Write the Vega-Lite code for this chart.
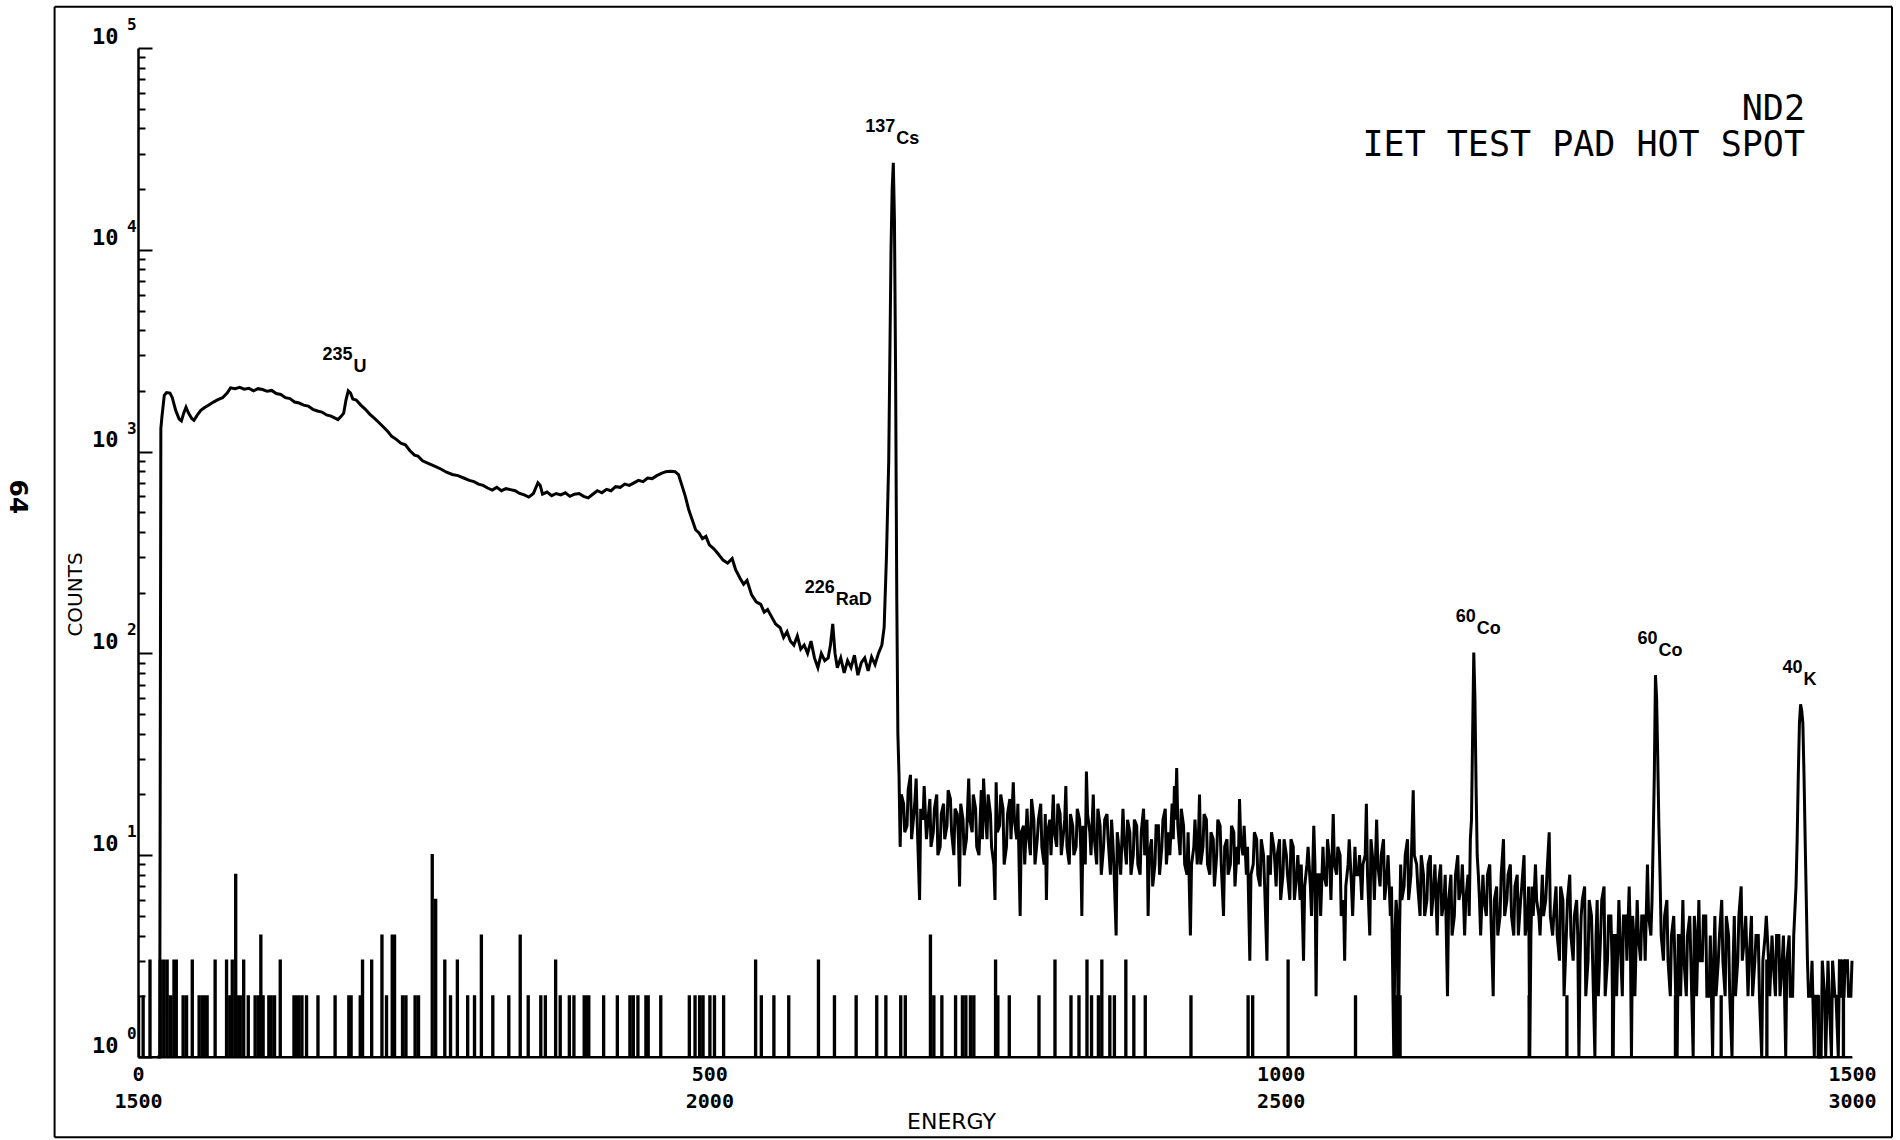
{
  "$schema": "https://vega.github.io/schema/vega-lite/v6.json",
  "width": 1714,
  "height": 1009,
  "autosize": {"type": "none"},
  "padding": {"left": 138, "top": 48, "right": 48, "bottom": 83},
  "background": "white",
  "config": {"view": {"stroke": null}, "font": "DejaVu Sans Mono"},
  "title": {
    "text": ["ND2", "IET TEST PAD HOT SPOT"],
    "anchor": "end", "frame": "group", "orient": "top", "offset": 0,
    "baseline": "top", "dy": 157, "dx": -47, "align": "right",
    "font": "DejaVu Sans Mono", "fontSize": 35, "fontWeight": "normal",
    "lineHeight": 36, "color": "black"
  },
  "datasets": {
    "main": [
      {"c":17,"n":1},{"c":19,"n":1},{"c":20,"n":1300},{"c":21,"n":1500},{"c":23,"n":1900},{"c":25,"n":1960},{"c":28,"n":1950},{"c":30,"n":1850},{"c":33,"n":1600},{"c":36,"n":1450},{"c":38,"n":1420},{"c":40,"n":1550},{"c":42,"n":1660},{"c":44,"n":1560},{"c":47,"n":1460},{"c":49,"n":1430},{"c":52,"n":1520},{"c":55,"n":1600},{"c":58,"n":1650},{"c":62,"n":1700},{"c":66,"n":1760},{"c":70,"n":1810},{"c":74,"n":1850},{"c":78,"n":1950},{"c":81,"n":2070},{"c":85,"n":2050},{"c":89,"n":2080},{"c":93,"n":2040},{"c":97,"n":2060},{"c":101,"n":2000},{"c":105,"n":2050},{"c":109,"n":2030},{"c":113,"n":1990},{"c":117,"n":2010},{"c":121,"n":1940},{"c":125,"n":1920},{"c":129,"n":1850},{"c":133,"n":1830},{"c":137,"n":1760},{"c":141,"n":1740},{"c":145,"n":1700},{"c":149,"n":1680},{"c":153,"n":1620},{"c":157,"n":1590},{"c":161,"n":1570},{"c":165,"n":1520},{"c":169,"n":1500},{"c":172,"n":1470},{"c":175,"n":1440},{"c":178,"n":1500},{"c":180,"n":1550},{"c":182,"n":1800},{"c":184,"n":2000},{"c":186,"n":1950},{"c":188,"n":1820},{"c":191,"n":1800},{"c":195,"n":1700},{"c":199,"n":1620},{"c":203,"n":1530},{"c":207,"n":1460},{"c":211,"n":1390},{"c":215,"n":1320},{"c":219,"n":1250},{"c":222,"n":1190},{"c":226,"n":1150},{"c":230,"n":1100},{"c":234,"n":1080},{"c":238,"n":1010},{"c":242,"n":960},{"c":245,"n":950},{"c":249,"n":900},{"c":253,"n":880},{"c":257,"n":860},{"c":261,"n":840},{"c":265,"n":820},{"c":270,"n":790},{"c":275,"n":770},{"c":280,"n":760},{"c":285,"n":740},{"c":290,"n":720},{"c":294,"n":710},{"c":298,"n":690},{"c":302,"n":680},{"c":306,"n":660},{"c":310,"n":645},{"c":314,"n":665},{"c":318,"n":640},{"c":322,"n":655},{"c":326,"n":648},{"c":330,"n":640},{"c":334,"n":620},{"c":338,"n":610},{"c":342,"n":595},{"c":346,"n":620},{"c":350,"n":700},{"c":352,"n":680},{"c":354,"n":615},{"c":358,"n":630},{"c":362,"n":605},{"c":366,"n":620},{"c":370,"n":610},{"c":374,"n":625},{"c":378,"n":600},{"c":382,"n":615},{"c":386,"n":620},{"c":390,"n":600},{"c":394,"n":590},{"c":398,"n":615},{"c":402,"n":640},{"c":406,"n":625},{"c":410,"n":650},{"c":414,"n":640},{"c":418,"n":670},{"c":422,"n":665},{"c":426,"n":690},{"c":430,"n":680},{"c":434,"n":700},{"c":438,"n":720},{"c":442,"n":710},{"c":446,"n":740},{"c":450,"n":735},{"c":454,"n":760},{"c":458,"n":780},{"c":462,"n":795},{"c":466,"n":800},{"c":470,"n":795},{"c":473,"n":770},{"c":476,"n":680},{"c":479,"n":600},{"c":482,"n":515},{"c":485,"n":460},{"c":488,"n":410},{"c":491,"n":395},{"c":494,"n":370},{"c":497,"n":380},{"c":500,"n":345},{"c":504,"n":330},{"c":508,"n":310},{"c":512,"n":290},{"c":516,"n":280},{"c":520,"n":295},{"c":523,"n":260},{"c":527,"n":235},{"c":530,"n":220},{"c":533,"n":230},{"c":537,"n":195},{"c":541,"n":180},{"c":545,"n":175},{"c":548,"n":160},{"c":551,"n":165},{"c":555,"n":150},{"c":558,"n":140},{"c":562,"n":134},{"c":565,"n":120},{"c":568,"n":128},{"c":571,"n":115},{"c":574,"n":110},{"c":577,"n":122},{"c":580,"n":105},{"c":583,"n":110},{"c":586,"n":100},{"c":589,"n":115},{"c":592,"n":95},{"c":595,"n":85},{"c":598,"n":100},{"c":601,"n":92},{"c":604,"n":95},{"c":606,"n":110},{"c":608,"n":140},{"c":610,"n":100},{"c":612,"n":85},{"c":615,"n":95},{"c":618,"n":80},{"c":621,"n":92},{"c":624,"n":85},{"c":627,"n":98},{"c":630,"n":78},{"c":633,"n":90},{"c":636,"n":95},{"c":639,"n":82},{"c":642,"n":96},{"c":645,"n":88},{"c":648,"n":100},{"c":651,"n":110},{"c":653,"n":135},{"c":655,"n":300},{"c":657,"n":900},{"c":658,"n":3000},{"c":659,"n":10000},{"c":660,"n":20000},{"c":661,"n":27000},{"c":662,"n":14000},{"c":663,"n":2500},{"c":664,"n":200},{"c":665,"n":40},{"c":666,"n":25},
      {"c":667,"n":11},{"c":670,"n":18},{"c":673,"n":14},{"c":676,"n":25},{"c":679,"n":16},{"c":681,"n":24},{"c":684,"n":6},{"c":687,"n":15},{"c":690,"n":12},{"c":693,"n":19},{"c":696,"n":13},{"c":699,"n":20},{"c":702,"n":11},{"c":705,"n":18},{"c":708,"n":14},{"c":711,"n":19},{"c":714,"n":10},{"c":717,"n":16},{"c":719,"n":7},{"c":722,"n":15},{"c":725,"n":12},{"c":727,"n":24},{"c":730,"n":13},{"c":733,"n":17},{"c":736,"n":10},{"c":738,"n":21},{"c":740,"n":24},{"c":743,"n":12},{"c":746,"n":16},{"c":749,"n":9},{"c":750,"n":6},{"c":751,"n":23},{"c":754,"n":14},{"c":757,"n":17},{"c":760,"n":11},{"c":763,"n":19},{"c":766,"n":23},{"c":769,"n":12},{"c":772,"n":5},{"c":775,"n":14},{"c":778,"n":17},{"c":781,"n":10},{"c":784,"n":15},{"c":787,"n":12},{"c":790,"n":18},{"c":793,"n":9},{"c":795,"n":6},{"c":798,"n":15},{"c":801,"n":20},{"c":804,"n":11},{"c":807,"n":16},{"c":810,"n":13},{"c":812,"n":22},{"c":815,"n":9},{"c":818,"n":14},{"c":821,"n":11},{"c":824,"n":15},{"c":826,"n":5},{"c":828,"n":12},{"c":830,"n":26},{"c":833,"n":13},{"c":836,"n":20},{"c":839,"n":9},{"c":842,"n":14},{"c":845,"n":11},{"c":848,"n":16},{"c":851,"n":8},{"c":853,"n":12},{"c":856,"n":4},{"c":859,"n":10},{"c":862,"n":17},{"c":865,"n":9},{"c":868,"n":13},{"c":871,"n":10},{"c":874,"n":14},{"c":877,"n":8},{"c":880,"n":17},{"c":882,"n":11},{"c":884,"n":5},{"c":887,"n":12},{"c":890,"n":9},{"c":893,"n":14},{"c":896,"n":11},{"c":899,"n":17},{"c":902,"n":13},{"c":905,"n":18},{"c":907,"n":22},{"c":909,"n":27},{"c":912,"n":10},{"c":915,"n":14},{"c":918,"n":8},{"c":921,"n":4},{"c":924,"n":11},{"c":927,"n":9},{"c":929,"n":20},{"c":932,"n":11},{"c":935,"n":15},{"c":938,"n":8},{"c":941,"n":12},{"c":944,"n":10},{"c":947,"n":14},{"c":950,"n":5},{"c":953,"n":12},{"c":956,"n":9},{"c":959,"n":13},{"c":962,"n":11},{"c":964,"n":19},{"c":967,"n":10},{"c":970,"n":8},{"c":973,"n":3},{"c":976,"n":9},{"c":979,"n":12},{"c":982,"n":7},{"c":985,"n":10},{"c":988,"n":3},{"c":991,"n":8},{"c":994,"n":11},{"c":996,"n":7},{"c":999,"n":12},{"c":1002,"n":8},{"c":1005,"n":10},{"c":1008,"n":6},{"c":1011,"n":11},{"c":1014,"n":8},{"c":1017,"n":6},{"c":1020,"n":3},{"c":1023,"n":9},{"c":1026,"n":7},{"c":1029,"n":14},{"c":1031,"n":2},{"c":1034,"n":8},{"c":1037,"n":11},{"c":1040,"n":7},{"c":1043,"n":9},{"c":1046,"n":16},{"c":1049,"n":8},{"c":1052,"n":10},{"c":1055,"n":6},{"c":1056,"n":3},{"c":1059,"n":9},{"c":1062,"n":7},{"c":1065,"n":11},{"c":1068,"n":8},{"c":1071,"n":6},{"c":1074,"n":10},{"c":1075,"n":18},{"c":1078,"n":4},{"c":1081,"n":9},{"c":1084,"n":15},{"c":1087,"n":7},{"c":1090,"n":12},{"c":1093,"n":8},{"c":1096,"n":5},{"c":1099,"n":1},{"c":1101,"n":6},{"c":1103,"n":1},{"c":1105,"n":9},{"c":1108,"n":7},{"c":1111,"n":12},{"c":1114,"n":8},{"c":1116,"n":21},{"c":1119,"n":9},{"c":1122,"n":5},{"c":1125,"n":8},{"c":1128,"n":6},{"c":1131,"n":10},{"c":1134,"n":7},{"c":1137,"n":4},{"c":1140,"n":9},{"c":1143,"n":6},{"c":1146,"n":2},{"c":1149,"n":8},{"c":1152,"n":5},{"c":1155,"n":10},{"c":1158,"n":7},{"c":1161,"n":4},{"c":1164,"n":8},{"c":1166,"n":12},{"c":1168,"n":40},{"c":1169,"n":101},{"c":1170,"n":60},{"c":1172,"n":10},{"c":1174,"n":6},{"c":1177,"n":8},{"c":1180,"n":5},{"c":1183,"n":9},{"c":1186,"n":2},{"c":1189,"n":7},{"c":1192,"n":5},{"c":1195,"n":12},{"c":1198,"n":6},{"c":1201,"n":9},{"c":1204,"n":4},{"c":1207,"n":8},{"c":1210,"n":6},{"c":1213,"n":10},{"c":1216,"n":5},{"c":1218,"n":1},{"c":1220,"n":7},{"c":1223,"n":9},{"c":1226,"n":5},{"c":1229,"n":8},{"c":1232,"n":6},{"c":1235,"n":13},{"c":1238,"n":4},{"c":1241,"n":7},{"c":1244,"n":3},{"c":1247,"n":6},{"c":1250,"n":4},{"c":1253,"n":8},{"c":1256,"n":3},{"c":1259,"n":6},{"c":1261,"n":1},{"c":1263,"n":5},{"c":1266,"n":7},{"c":1269,"n":3},{"c":1272,"n":5},{"c":1275,"n":1},{"c":1277,"n":6},{"c":1280,"n":4},{"c":1283,"n":7},{"c":1286,"n":3},{"c":1289,"n":5},{"c":1291,"n":1},{"c":1293,"n":4},{"c":1296,"n":6},{"c":1299,"n":2},{"c":1302,"n":5},{"c":1305,"n":7},{"c":1307,"n":1},{"c":1309,"n":4},{"c":1312,"n":6},{"c":1315,"n":3},{"c":1318,"n":5},{"c":1321,"n":9},{"c":1324,"n":4},{"c":1326,"n":12},{"c":1328,"n":78},{"c":1330,"n":30},{"c":1332,"n":8},{"c":1335,"n":3},{"c":1338,"n":6},{"c":1341,"n":2},{"c":1344,"n":5},{"c":1347,"n":1},{"c":1349,"n":4},{"c":1352,"n":6},{"c":1355,"n":2},{"c":1358,"n":5},{"c":1361,"n":1},{"c":1363,"n":4},{"c":1366,"n":6},{"c":1369,"n":3},{"c":1372,"n":5},{"c":1375,"n":2},{"c":1378,"n":1},{"c":1380,"n":5},{"c":1383,"n":3},{"c":1386,"n":6},{"c":1389,"n":2},{"c":1392,"n":4},{"c":1395,"n":1},{"c":1397,"n":5},{"c":1400,"n":3},{"c":1403,"n":7},{"c":1406,"n":4},{"c":1409,"n":2},{"c":1412,"n":5},{"c":1415,"n":3},{"c":1418,"n":4},{"c":1421,"n":1},{"c":1424,"n":4},{"c":1427,"n":3},{"c":1430,"n":4},{"c":1433,"n":2},{"c":1436,"n":4},{"c":1439,"n":3},{"c":1442,"n":1},{"c":1445,"n":4},{"c":1448,"n":2},{"c":1451,"n":7},{"c":1453,"n":25},{"c":1455,"n":56},{"c":1457,"n":45},{"c":1459,"n":12},{"c":1461,"n":3},{"c":1464,"n":2},{"c":1467,"n":1},{"c":1470,"n":2},{"c":1473,"n":1},{"c":1476,"n":2},{"c":1479,"n":3},{"c":1482,"n":1},{"c":1485,"n":2},{"c":1488,"n":1},{"c":1490,"n":3},{"c":1493,"n":2},{"c":1496,"n":3},{"c":1499,"n":2},
      {"c":668,"n":20},{"c":671,"n":13},{"c":674,"n":21},{"c":677,"n":12},{"c":680,"n":19},{"c":682,"n":14},{"c":685,"n":17},{"c":688,"n":22},{"c":691,"n":14},{"c":694,"n":11},{"c":697,"n":17},{"c":700,"n":10},{"c":703,"n":16},{"c":706,"n":12},{"c":709,"n":21},{"c":712,"n":13},{"c":715,"n":17},{"c":718,"n":12},{"c":720,"n":18},{"c":723,"n":10},{"c":726,"n":17},{"c":728,"n":15},{"c":731,"n":20},{"c":734,"n":11},{"c":737,"n":15},{"c":739,"n":12},{"c":741,"n":18},{"c":744,"n":20},{"c":747,"n":11},{"c":752,"n":13},{"c":755,"n":20},{"c":758,"n":9},{"c":761,"n":16},{"c":764,"n":12},{"c":767,"n":15},{"c":770,"n":18},{"c":773,"n":13},{"c":776,"n":9},{"c":779,"n":13},{"c":782,"n":19},{"c":785,"n":9},{"c":788,"n":15},{"c":791,"n":11},{"c":794,"n":16},{"c":796,"n":13},{"c":799,"n":10},{"c":802,"n":13},{"c":805,"n":18},{"c":808,"n":10},{"c":811,"n":15},{"c":813,"n":11},{"c":816,"n":16},{"c":819,"n":10},{"c":822,"n":17},{"c":825,"n":11},{"c":827,"n":14},{"c":829,"n":9},{"c":831,"n":16},{"c":834,"n":10},{"c":837,"n":12},{"c":840,"n":17},{"c":843,"n":8},{"c":846,"n":15},{"c":849,"n":12},{"c":852,"n":15},{"c":854,"n":9},{"c":857,"n":13},{"c":860,"n":8},{"c":863,"n":12},{"c":866,"n":15},{"c":869,"n":8},{"c":872,"n":15},{"c":875,"n":9},{"c":878,"n":13},{"c":881,"n":10},{"c":883,"n":15},{"c":885,"n":10},{"c":888,"n":7},{"c":891,"n":14},{"c":894,"n":8},{"c":897,"n":15},{"c":900,"n":9},{"c":903,"n":10},{"c":906,"n":12},{"c":908,"n":15},{"c":910,"n":14},{"c":913,"n":17},{"c":916,"n":9},{"c":919,"n":13},{"c":922,"n":9},{"c":925,"n":15},{"c":928,"n":12},{"c":930,"n":9},{"c":933,"n":16},{"c":936,"n":9},{"c":939,"n":13},{"c":942,"n":7},{"c":945,"n":15},{"c":948,"n":9},{"c":951,"n":11},{"c":954,"n":8},{"c":957,"n":14},{"c":960,"n":7},{"c":963,"n":9},{"c":965,"n":12},{"c":968,"n":14},{"c":971,"n":11},{"c":974,"n":8},{"c":977,"n":13},{"c":980,"n":8},{"c":983,"n":12},{"c":986,"n":7},{"c":989,"n":10},{"c":992,"n":13},{"c":995,"n":9},{"c":997,"n":10},{"c":1000,"n":6},{"c":1003,"n":12},{"c":1006,"n":8},{"c":1009,"n":12},{"c":1012,"n":6},{"c":1015,"n":10},{"c":1018,"n":9},{"c":1021,"n":7},{"c":1024,"n":11},{"c":1027,"n":5},{"c":1030,"n":9},{"c":1032,"n":8},{"c":1035,"n":5},{"c":1038,"n":8},{"c":1041,"n":12},{"c":1044,"n":6},{"c":1047,"n":9},{"c":1050,"n":11},{"c":1053,"n":5},{"c":1057,"n":7},{"c":1060,"n":12},{"c":1063,"n":5},{"c":1066,"n":8},{"c":1069,"n":10},{"c":1072,"n":9},{"c":1076,"n":8},{"c":1079,"n":12},{"c":1082,"n":6},{"c":1085,"n":9},{"c":1088,"n":10},{"c":1091,"n":6},{"c":1094,"n":10},{"c":1097,"n":7},{"c":1100,"n":4},{"c":1102,"n":5},{"c":1104,"n":4},{"c":1106,"n":6},{"c":1109,"n":10},{"c":1112,"n":6},{"c":1115,"n":13},{"c":1117,"n":10},{"c":1120,"n":7},{"c":1123,"n":10},{"c":1126,"n":5},{"c":1129,"n":9},{"c":1132,"n":5},{"c":1135,"n":9},{"c":1138,"n":7},{"c":1141,"n":5},{"c":1144,"n":8},{"c":1147,"n":6},{"c":1150,"n":4},{"c":1153,"n":8},{"c":1156,"n":6},{"c":1159,"n":9},{"c":1162,"n":6},{"c":1165,"n":5},{"c":1167,"n":15},{"c":1171,"n":22},{"c":1173,"n":8},{"c":1175,"n":4},{"c":1178,"n":6},{"c":1181,"n":8},{"c":1184,"n":5},{"c":1187,"n":6},{"c":1190,"n":4},{"c":1193,"n":8},{"c":1196,"n":5},{"c":1199,"n":8},{"c":1202,"n":5},{"c":1205,"n":7},{"c":1208,"n":4},{"c":1211,"n":7},{"c":1214,"n":4},{"c":1217,"n":7},{"c":1219,"n":4},{"c":1221,"n":5},{"c":1224,"n":6},{"c":1227,"n":4},{"c":1230,"n":5},{"c":1233,"n":8},{"c":1236,"n":5},{"c":1239,"n":5},{"c":1242,"n":4},{"c":1245,"n":7},{"c":1248,"n":2},{"c":1251,"n":6},{"c":1254,"n":4},{"c":1257,"n":5},{"c":1260,"n":4},{"c":1262,"n":3},{"c":1264,"n":6},{"c":1267,"n":2},{"c":1270,"n":6},{"c":1273,"n":3},{"c":1276,"n":4},{"c":1278,"n":2},{"c":1281,"n":6},{"c":1284,"n":2},{"c":1287,"n":5},{"c":1290,"n":3},{"c":1292,"n":4},{"c":1294,"n":2},{"c":1297,"n":4},{"c":1300,"n":5},{"c":1303,"n":3},{"c":1306,"n":4},{"c":1308,"n":5},{"c":1310,"n":2},{"c":1313,"n":4},{"c":1316,"n":5},{"c":1319,"n":3},{"c":1322,"n":5},{"c":1325,"n":6},{"c":1327,"n":25},{"c":1329,"n":60},{"c":1331,"n":14},{"c":1333,"n":4},{"c":1336,"n":5},{"c":1339,"n":3},{"c":1342,"n":4},{"c":1345,"n":3},{"c":1348,"n":4},{"c":1350,"n":2},{"c":1353,"n":3},{"c":1356,"n":4},{"c":1359,"n":3},{"c":1362,"n":5},{"c":1364,"n":2},{"c":1367,"n":3},{"c":1370,"n":5},{"c":1373,"n":2},{"c":1376,"n":4},{"c":1379,"n":3},{"c":1381,"n":2},{"c":1384,"n":4},{"c":1387,"n":3},{"c":1390,"n":5},{"c":1393,"n":2},{"c":1396,"n":3},{"c":1398,"n":2},{"c":1401,"n":5},{"c":1404,"n":3},{"c":1407,"n":5},{"c":1410,"n":3},{"c":1413,"n":2},{"c":1416,"n":4},{"c":1419,"n":2},{"c":1422,"n":3},{"c":1425,"n":5},{"c":1428,"n":2},{"c":1431,"n":3},{"c":1434,"n":4},{"c":1437,"n":2},{"c":1440,"n":4},{"c":1443,"n":3},{"c":1446,"n":2},{"c":1449,"n":4},{"c":1452,"n":12},{"c":1454,"n":45},{"c":1456,"n":52},{"c":1458,"n":25},{"c":1460,"n":6},{"c":1462,"n":2},{"c":1465,"n":3},{"c":1468,"n":2},{"c":1471,"n":1},{"c":1474,"n":3},{"c":1477,"n":1},{"c":1480,"n":2},{"c":1483,"n":3},{"c":1486,"n":2},{"c":1489,"n":3},{"c":1491,"n":2},{"c":1494,"n":3},{"c":1497,"n":2},{"c":1500,"n":3}
    ],
    "bg": [
      {"c":0,"n":2},{"c":1,"n":1},{"c":4,"n":2},{"c":5,"n":1},{"c":10,"n":3},{"c":11,"n":1},{"c":19,"n":3},{"c":20,"n":1},{"c":22,"n":3},{"c":23,"n":1},{"c":25,"n":3},{"c":26,"n":1},{"c":28,"n":2},{"c":29,"n":1},{"c":31,"n":3},{"c":32,"n":1},{"c":33,"n":3},{"c":34,"n":1},{"c":39,"n":2},{"c":40,"n":1},{"c":42,"n":2},{"c":43,"n":1},{"c":47,"n":3},{"c":48,"n":1},{"c":53,"n":2},{"c":54,"n":1},{"c":56,"n":2},{"c":57,"n":1},{"c":58,"n":2},{"c":59,"n":1},{"c":60,"n":2},{"c":61,"n":1},{"c":67,"n":3},{"c":68,"n":1},{"c":77,"n":3},{"c":78,"n":1},{"c":80,"n":2},{"c":81,"n":1},{"c":82,"n":3},{"c":83,"n":1},{"c":85,"n":8},{"c":86,"n":1},{"c":87,"n":2},{"c":88,"n":1},{"c":89,"n":2},{"c":90,"n":1},{"c":92,"n":3},{"c":93,"n":1},{"c":96,"n":2},{"c":97,"n":1},{"c":102,"n":2},{"c":103,"n":1},{"c":105,"n":2},{"c":106,"n":1},{"c":107,"n":4},{"c":108,"n":1},{"c":109,"n":2},{"c":110,"n":1},{"c":114,"n":2},{"c":115,"n":1},{"c":116,"n":2},{"c":117,"n":1},{"c":119,"n":2},{"c":120,"n":1},{"c":124,"n":3},{"c":125,"n":1},{"c":136,"n":2},{"c":137,"n":1},{"c":138,"n":2},{"c":139,"n":1},{"c":140,"n":2},{"c":141,"n":1},{"c":143,"n":2},{"c":144,"n":1},{"c":147,"n":2},{"c":148,"n":1},{"c":157,"n":2},{"c":158,"n":1},{"c":172,"n":2},{"c":173,"n":1},{"c":184,"n":2},{"c":185,"n":1},{"c":186,"n":2},{"c":187,"n":1},{"c":194,"n":2},{"c":195,"n":1},{"c":196,"n":3},{"c":197,"n":1},{"c":204,"n":3},{"c":205,"n":1},{"c":213,"n":4},{"c":214,"n":1},{"c":217,"n":2},{"c":218,"n":1},{"c":222,"n":4},{"c":223,"n":1},{"c":224,"n":4},{"c":225,"n":1},{"c":231,"n":2},{"c":232,"n":1},{"c":234,"n":2},{"c":235,"n":1},{"c":242,"n":2},{"c":243,"n":1},{"c":245,"n":2},{"c":246,"n":1},{"c":257,"n":10},{"c":258,"n":1},{"c":260,"n":6},{"c":261,"n":1},{"c":268,"n":3},{"c":269,"n":1},{"c":273,"n":2},{"c":274,"n":1},{"c":279,"n":3},{"c":280,"n":1},{"c":288,"n":2},{"c":289,"n":1},{"c":294,"n":2},{"c":295,"n":1},{"c":300,"n":4},{"c":301,"n":1},{"c":310,"n":2},{"c":311,"n":1},{"c":324,"n":2},{"c":325,"n":1},{"c":334,"n":4},{"c":335,"n":1},{"c":341,"n":2},{"c":342,"n":1},{"c":352,"n":2},{"c":353,"n":1},{"c":356,"n":2},{"c":357,"n":1},{"c":365,"n":3},{"c":366,"n":1},{"c":369,"n":2},{"c":370,"n":1},{"c":377,"n":2},{"c":378,"n":1},{"c":381,"n":2},{"c":382,"n":1},{"c":390,"n":2},{"c":391,"n":1},{"c":392,"n":2},{"c":393,"n":1},{"c":394,"n":2},{"c":395,"n":1},{"c":407,"n":2},{"c":408,"n":1},{"c":419,"n":2},{"c":420,"n":1},{"c":430,"n":2},{"c":431,"n":1},{"c":433,"n":2},{"c":434,"n":1},{"c":437,"n":2},{"c":438,"n":1},{"c":444,"n":2},{"c":445,"n":1},{"c":446,"n":2},{"c":447,"n":1},{"c":457,"n":2},{"c":458,"n":1},{"c":482,"n":2},{"c":483,"n":1},{"c":487,"n":2},{"c":488,"n":1},{"c":491,"n":2},{"c":492,"n":1},{"c":494,"n":2},{"c":495,"n":1},{"c":500,"n":2},{"c":501,"n":1},{"c":504,"n":2},{"c":505,"n":1},{"c":512,"n":2},{"c":513,"n":1},{"c":540,"n":3},{"c":541,"n":1},{"c":545,"n":2},{"c":546,"n":1},{"c":556,"n":2},{"c":557,"n":1},{"c":569,"n":2},{"c":570,"n":1},{"c":595,"n":3},{"c":596,"n":1},{"c":609,"n":2},{"c":610,"n":1},{"c":628,"n":2},{"c":629,"n":1},{"c":646,"n":2},{"c":647,"n":1},{"c":654,"n":2},{"c":655,"n":1},{"c":667,"n":2},{"c":668,"n":1},{"c":671,"n":2},{"c":672,"n":1},{"c":693,"n":4},{"c":694,"n":1},{"c":696,"n":2},{"c":697,"n":1},{"c":703,"n":2},{"c":704,"n":1},{"c":715,"n":2},{"c":716,"n":1},{"c":721,"n":2},{"c":722,"n":1},{"c":724,"n":2},{"c":725,"n":1},{"c":728,"n":2},{"c":729,"n":1},{"c":731,"n":2},{"c":732,"n":1},{"c":750,"n":3},{"c":751,"n":1},{"c":752,"n":2},{"c":753,"n":1},{"c":762,"n":2},{"c":763,"n":1},{"c":788,"n":2},{"c":789,"n":1},{"c":802,"n":3},{"c":803,"n":1},{"c":816,"n":2},{"c":817,"n":1},{"c":823,"n":2},{"c":824,"n":1},{"c":830,"n":3},{"c":831,"n":1},{"c":834,"n":2},{"c":835,"n":1},{"c":840,"n":2},{"c":841,"n":1},{"c":843,"n":3},{"c":844,"n":1},{"c":850,"n":2},{"c":851,"n":1},{"c":854,"n":2},{"c":855,"n":1},{"c":864,"n":3},{"c":865,"n":1},{"c":871,"n":2},{"c":872,"n":1},{"c":881,"n":2},{"c":882,"n":1},{"c":921,"n":2},{"c":922,"n":1},{"c":971,"n":2},{"c":972,"n":1},{"c":975,"n":2},{"c":976,"n":1},{"c":1006,"n":3},{"c":1007,"n":1},{"c":1065,"n":2},{"c":1066,"n":1},{"c":1100,"n":2},{"c":1101,"n":1},{"c":1104,"n":2},{"c":1105,"n":1},{"c":1217,"n":2},{"c":1218,"n":1},{"c":1250,"n":2},{"c":1251,"n":1},{"c":1290,"n":3},{"c":1291,"n":1},{"c":1345,"n":2},{"c":1346,"n":1},{"c":1385,"n":2},{"c":1386,"n":1},{"c":1425,"n":3},{"c":1426,"n":1},{"c":1470,"n":2},{"c":1471,"n":1},{"c":1492,"n":3},{"c":1493,"n":1},{"c":1500,"n":1}
    ],
    "peaks": [
      {"iso":"235","el":"U","c":186,"n":2000},
      {"iso":"226","el":"RaD","c":608,"n":140},
      {"iso":"137","el":"Cs","c":661,"n":27000},
      {"iso":"60","el":"Co","c":1169,"n":101},
      {"iso":"60","el":"Co","c":1328,"n":78},
      {"iso":"40","el":"K","c":1455,"n":56}
    ],
    "decades": [
      {"n":1,"e":"0"},{"n":10,"e":"1"},{"n":100,"e":"2"},{"n":1000,"e":"3"},{"n":10000,"e":"4"},{"n":100000,"e":"5"}
    ]
  },
  "layer": [
    {
      "data": {"name": "main"},
      "mark": {"type": "line", "color": "black", "strokeWidth": 3},
      "encoding": {
        "x": {
          "field": "c", "type": "quantitative",
          "scale": {"domain": [0, 1500], "nice": false, "zero": false},
          "axis": {
            "values": [0, 500, 1000, 1500],
            "labelExpr": "[format(datum.value, 'd'), format(datum.value + 1500, 'd')]",
            "ticks": false, "grid": false,
            "labelFont": "DejaVu Sans Mono", "labelFontWeight": "bold", "labelFontSize": 20,
            "labelLineHeight": 27, "labelPadding": 7, "labelColor": "black",
            "labelFlush": false, "labelOverlap": false,
            "domainColor": "black", "domainWidth": 2,
            "title": "ENERGY", "titleFont": "DejaVu Sans", "titleFontWeight": "normal",
            "titleFontSize": 22, "titleColor": "black", "titleX": 813, "titleY": 64,
            "titleAlign": "center", "titleBaseline": "middle"
          }
        },
        "y": {
          "field": "n", "type": "quantitative",
          "scale": {"type": "log", "domain": [1, 100000], "nice": false},
          "axis": {
            "values": [1,2,3,4,5,6,7,8,9,10,20,30,40,50,60,70,80,90,100,200,300,400,500,600,700,800,900,1000,2000,3000,4000,5000,6000,7000,8000,9000,10000,20000,30000,40000,50000,60000,70000,80000,90000,100000],
            "labelExpr": "indexof([1,10,100,1000,10000,100000], datum.value) >= 0 ? '10' : ''",
            "grid": false,
            "tickSize": {"condition": {"test": "indexof([1,10,100,1000,10000,100000], datum.value) >= 0", "value": -14}, "value": -7},
            "tickWidth": 2, "tickColor": "black",
            "domainColor": "black", "domainWidth": 2.5,
            "labelFont": "DejaVu Sans Mono", "labelFontWeight": "bold", "labelFontSize": 22,
            "labelBaseline": "alphabetic", "labelOffset": -5, "labelPadding": 34, "labelColor": "black",
            "labelFlush": false, "labelOverlap": false,
            "title": "COUNTS", "titleFont": "DejaVu Sans", "titleFontWeight": "normal",
            "titleFontSize": 20, "titleColor": "black", "titleX": -63, "titleY": 546,
            "titleAlign": "center", "titleBaseline": "middle", "titleAngle": -90
          }
        }
      }
    },
    {
      "data": {"name": "bg"},
      "mark": {"type": "line", "interpolate": "step-after", "color": "black", "strokeWidth": 2.2},
      "encoding": {
        "x": {"field": "c", "type": "quantitative"},
        "y": {"field": "n", "type": "quantitative"}
      }
    },
    {
      "data": {"name": "peaks"},
      "mark": {"type": "text", "align": "right", "baseline": "middle", "dx": 2, "dy": -36, "font": "Liberation Sans", "fontWeight": "bold", "fontSize": 18, "color": "black"},
      "encoding": {
        "x": {"field": "c", "type": "quantitative"},
        "y": {"field": "n", "type": "quantitative"},
        "text": {"field": "iso"}
      }
    },
    {
      "data": {"name": "peaks"},
      "mark": {"type": "text", "align": "left", "baseline": "middle", "dx": 3, "dy": -24, "font": "Liberation Sans", "fontWeight": "bold", "fontSize": 18, "color": "black"},
      "encoding": {
        "x": {"field": "c", "type": "quantitative"},
        "y": {"field": "n", "type": "quantitative"},
        "text": {"field": "el"}
      }
    },
    {
      "data": {"name": "decades"},
      "mark": {"type": "text", "align": "left", "baseline": "middle", "dx": -11, "dy": -23, "font": "DejaVu Sans Mono", "fontWeight": "bold", "fontSize": 16, "color": "black"},
      "encoding": {
        "x": {"datum": 0, "type": "quantitative"},
        "y": {"field": "n", "type": "quantitative"},
        "text": {"field": "e"}
      }
    },
    {
      "data": {"values": [{"t": "64"}]},
      "mark": {"type": "text", "angle": 90, "align": "center", "baseline": "middle", "font": "DejaVu Sans", "fontWeight": "bold", "fontSize": 25, "color": "black"},
      "encoding": {
        "x": {"datum": -105, "type": "quantitative"},
        "y": {"datum": 597, "type": "quantitative"},
        "text": {"field": "t"}
      }
    },
    {
      "data": {"values": [{"k": "frame"}]},
      "layer": [
        {
          "mark": {"type": "rule", "color": "black", "strokeWidth": 2},
          "encoding": {
            "x": {"datum": -73, "type": "quantitative"},
            "y": {"datum": 160000, "type": "quantitative"},
            "y2": {"datum": 0.4}
          }
        },
        {
          "mark": {"type": "rule", "color": "black", "strokeWidth": 2},
          "encoding": {
            "x": {"datum": 1535, "type": "quantitative"},
            "y": {"datum": 160000, "type": "quantitative"},
            "y2": {"datum": 0.4}
          }
        },
        {
          "mark": {"type": "rule", "color": "black", "strokeWidth": 2},
          "encoding": {
            "x": {"datum": -73, "type": "quantitative"},
            "x2": {"datum": 0},
            "y": {"datum": 160000, "type": "quantitative"}
          }
        },
        {
          "mark": {"type": "rule", "color": "black", "strokeWidth": 2},
          "encoding": {
            "x": {"datum": 1535, "type": "quantitative"},
            "x2": {"datum": 0},
            "y": {"datum": 160000, "type": "quantitative"}
          }
        },
        {
          "mark": {"type": "rule", "color": "black", "strokeWidth": 2},
          "encoding": {
            "x": {"datum": -73, "type": "quantitative"},
            "x2": {"datum": 0},
            "y": {"datum": 0.4, "type": "quantitative"}
          }
        },
        {
          "mark": {"type": "rule", "color": "black", "strokeWidth": 2},
          "encoding": {
            "x": {"datum": 1535, "type": "quantitative"},
            "x2": {"datum": 0},
            "y": {"datum": 0.4, "type": "quantitative"}
          }
        }
      ]
    }
  ]
}
